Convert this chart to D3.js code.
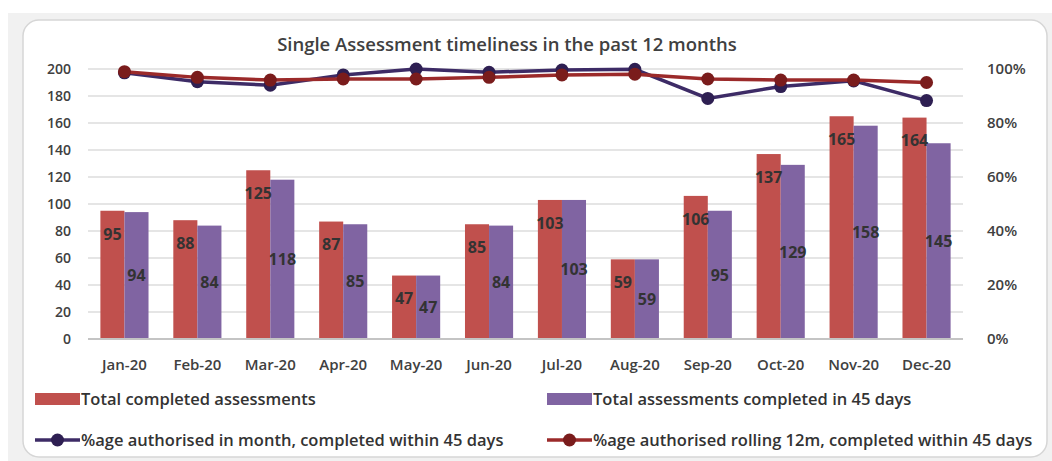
<!DOCTYPE html>
<html>
<head>
<meta charset="utf-8">
<script src="https://cdn.jsdelivr.net/npm/d3@7"></script>
<style>
  body { margin: 0; background: #fff; }
  text { font-family: "Open Sans", sans-serif; }
</style>
</head>
<body>
<script>
//chart data
var months = ["Jan-20", "Feb-20", "Mar-20", "Apr-20", "May-20", "Jun-20",
              "Jul-20", "Aug-20", "Sep-20", "Oct-20", "Nov-20", "Dec-20"];
var totalCompleted = [95, 88, 125, 87, 47, 85, 103, 59, 106, 137, 165, 164];
var completedIn45 = [94, 84, 118, 85, 47, 84, 103, 59, 95, 129, 158, 145];
//percentages
var pctInMonth = [98.6, 95.3, 94.0, 97.8, 100, 98.8, 99.6, 99.9, 89.1, 93.5, 95.6, 88.3];
var pctRolling = [99.0, 96.9, 95.9, 96.3, 96.3, 96.9, 97.8, 98.1, 96.3, 95.9, 95.9, 95.0];
var leftTicks = [0, 20, 40, 60, 80, 100, 120, 140, 160, 180, 200];
var rightTicks = [0, 0.2, 0.4, 0.6, 0.8, 1];

var seriesNames = ["Total completed assessments", "Total assessments completed in 45 days",
                   "%age authorised in month, completed within 45 days",
                   "%age authorised rolling 12m, completed within 45 days"];
var title = "Single Assessment timeliness in the past 12 months";

window.onload = drawChart();

function drawChart(){

    var width = 1052,
        height = 461;

    var barColors = ["#c0504d", "#8064a2"];
    var lineColors = ["#3d2b66", "#9b2a2a"];
    var markerColors = ["#2e1f52", "#7a1c1c"];

    var svg = d3.select("body")
        .append("svg")
        .attr("width", width)
        .attr("height", height);

    //grey frame and the rounded chart area
    svg.append("rect")
        .attr("x", 8).attr("y", 13)
        .attr("width", width - 8).attr("height", height - 13)
        .attr("fill", "#f1f1f1");
    svg.append("rect")
        .attr("x", 23).attr("y", 20)
        .attr("width", 1024).attr("height", 437)
        .attr("rx", 16)
        .attr("fill", "#fff")
        .attr("stroke", "#d6d6d6")
        .attr("stroke-width", 1.5);

    //scales
    var x = d3.scaleBand()
        .domain(months)
        .range([88, 963])
        .paddingInner(0.34)
        .paddingOuter(0.17);

    var x1 = d3.scaleBand()
        .domain([0, 1])
        .range([0, x.bandwidth()]);

    var y = d3.scaleLinear()
        .domain([0, 200])
        .range([339, 69]);

    var yR = d3.scaleLinear()
        .domain([0, 1])
        .range([339, 69]);

    //gridlines
    svg.selectAll(".grid")
        .data(leftTicks.slice(1))
        .enter()
        .append("line")
        .attr("class", "grid")
        .attr("x1", 88).attr("x2", 963)
        .attr("y1", function(d){ return y(d); })
        .attr("y2", function(d){ return y(d); })
        .attr("stroke", "#dcdcdc")
        .attr("stroke-width", 1.5);

    //left axis
    var leftAxis = svg.append("g")
        .attr("transform", "translate(88,0)")
        .call(d3.axisLeft(y).tickValues(leftTicks).tickSize(0).tickPadding(17));
    leftAxis.select(".domain").remove();
    leftAxis.selectAll("text")
        .attr("font-size", "14px")
        .attr("font-weight", "600")
        .attr("fill", "#404040");

    //right axis
    var rightAxis = svg.append("g")
        .attr("transform", "translate(963,0)")
        .call(d3.axisRight(yR).tickValues(rightTicks).tickFormat(d3.format(".0%")).tickSize(0).tickPadding(24));
    rightAxis.select(".domain").remove();
    rightAxis.selectAll("text")
        .attr("font-size", "15px")
        .attr("font-weight", "600")
        .attr("fill", "#404040");

    //bars
    var groups = svg.selectAll(".month")
        .data(months)
        .enter()
        .append("g")
        .attr("class", "month")
        .attr("transform", function(d){ return "translate(" + x(d) + ",0)"; });

    var barSeries = [totalCompleted, completedIn45];

    groups.selectAll("rect")
        .data(function(d, i){ return barSeries.map(function(s, k){ return {k: k, v: s[i]}; }); })
        .enter()
        .append("rect")
        .attr("x", function(d){ return x1(d.k); })
        .attr("width", x1.bandwidth())
        .attr("y", function(d){ return y(d.v); })
        .attr("height", function(d){ return y(0) - y(d.v); })
        .attr("fill", function(d){ return barColors[d.k]; });

    //data labels: red ones near the top, purple ones in the middle
    groups.selectAll(".lbl")
        .data(function(d, i){ return barSeries.map(function(s, k){ return {k: k, v: s[i]}; }); })
        .enter()
        .append("text")
        .attr("class", "lbl")
        .attr("x", function(d){ return x1(d.k) + x1.bandwidth() / 2; })
        .attr("y", function(d){
            if (d.k == 0) return y(d.v) + 23;
            return (y(d.v) + y(0)) / 2;
        })
        .attr("dy", "0.36em")
        .attr("text-anchor", "middle")
        .attr("font-size", "16px")
        .attr("font-weight", "bold")
        .attr("fill", "#333")
        .text(function(d){ return d.v; });

    //zero line
    svg.append("line")
        .attr("x1", 88).attr("x2", 963)
        .attr("y1", y(0)).attr("y2", y(0))
        .attr("stroke", "#c4c4c4")
        .attr("stroke-width", 2);

    //month labels
    svg.selectAll(".mlabel")
        .data(months)
        .enter()
        .append("text")
        .attr("class", "mlabel")
        .attr("x", function(d){ return x(d) + x.bandwidth() / 2; })
        .attr("y", 370)
        .attr("text-anchor", "middle")
        .attr("font-size", "15px")
        .attr("font-weight", "600")
        .attr("fill", "#404040")
        .text(function(d){ return d; });

    //percentage lines
    var line = d3.line()
        .x(function(d, i){ return x(months[i]) + x.bandwidth() / 2; })
        .y(function(d){ return yR(d / 100); });

    [pctInMonth, pctRolling].forEach(function(s, k){
        svg.append("path")
            .datum(s)
            .attr("d", line)
            .attr("fill", "none")
            .attr("stroke", lineColors[k])
            .attr("stroke-width", 3.5);
        svg.selectAll(".dot" + k)
            .data(s)
            .enter()
            .append("circle")
            .attr("class", "dot" + k)
            .attr("cx", function(d, i){ return x(months[i]) + x.bandwidth() / 2; })
            .attr("cy", function(d){ return yR(d / 100); })
            .attr("r", 6.5)
            .attr("fill", markerColors[k]);
    });

    //title
    svg.append("text")
        .attr("x", 507)
        .attr("y", 51)
        .attr("text-anchor", "middle")
        .attr("font-size", "18.5px")
        .attr("font-weight", "600")
        .attr("fill", "#404040")
        .text(title);

    //legend
    var legendPos = [[35, 399], [547, 399], [35, 440], [547, 440]];
    legendPos.forEach(function(p, i){
        var g = svg.append("g").attr("transform", "translate(" + p[0] + "," + p[1] + ")");
        if (i < 2) {
            g.append("rect")
                .attr("x", 0).attr("y", -6)
                .attr("width", 45).attr("height", 12)
                .attr("fill", barColors[i]);
        } else {
            g.append("line")
                .attr("x1", 0).attr("x2", 45)
                .attr("stroke", lineColors[i - 2])
                .attr("stroke-width", 3.5);
            g.append("circle")
                .attr("cx", 22.5).attr("r", 6.5)
                .attr("fill", markerColors[i - 2]);
        }
        g.append("text")
            .attr("x", 46)
            .attr("dy", "0.36em")
            .attr("font-size", "16.5px")
            .attr("font-weight", "600")
            .attr("fill", "#333")
            .text(seriesNames[i]);
    });
}
</script>
</body>
</html>
